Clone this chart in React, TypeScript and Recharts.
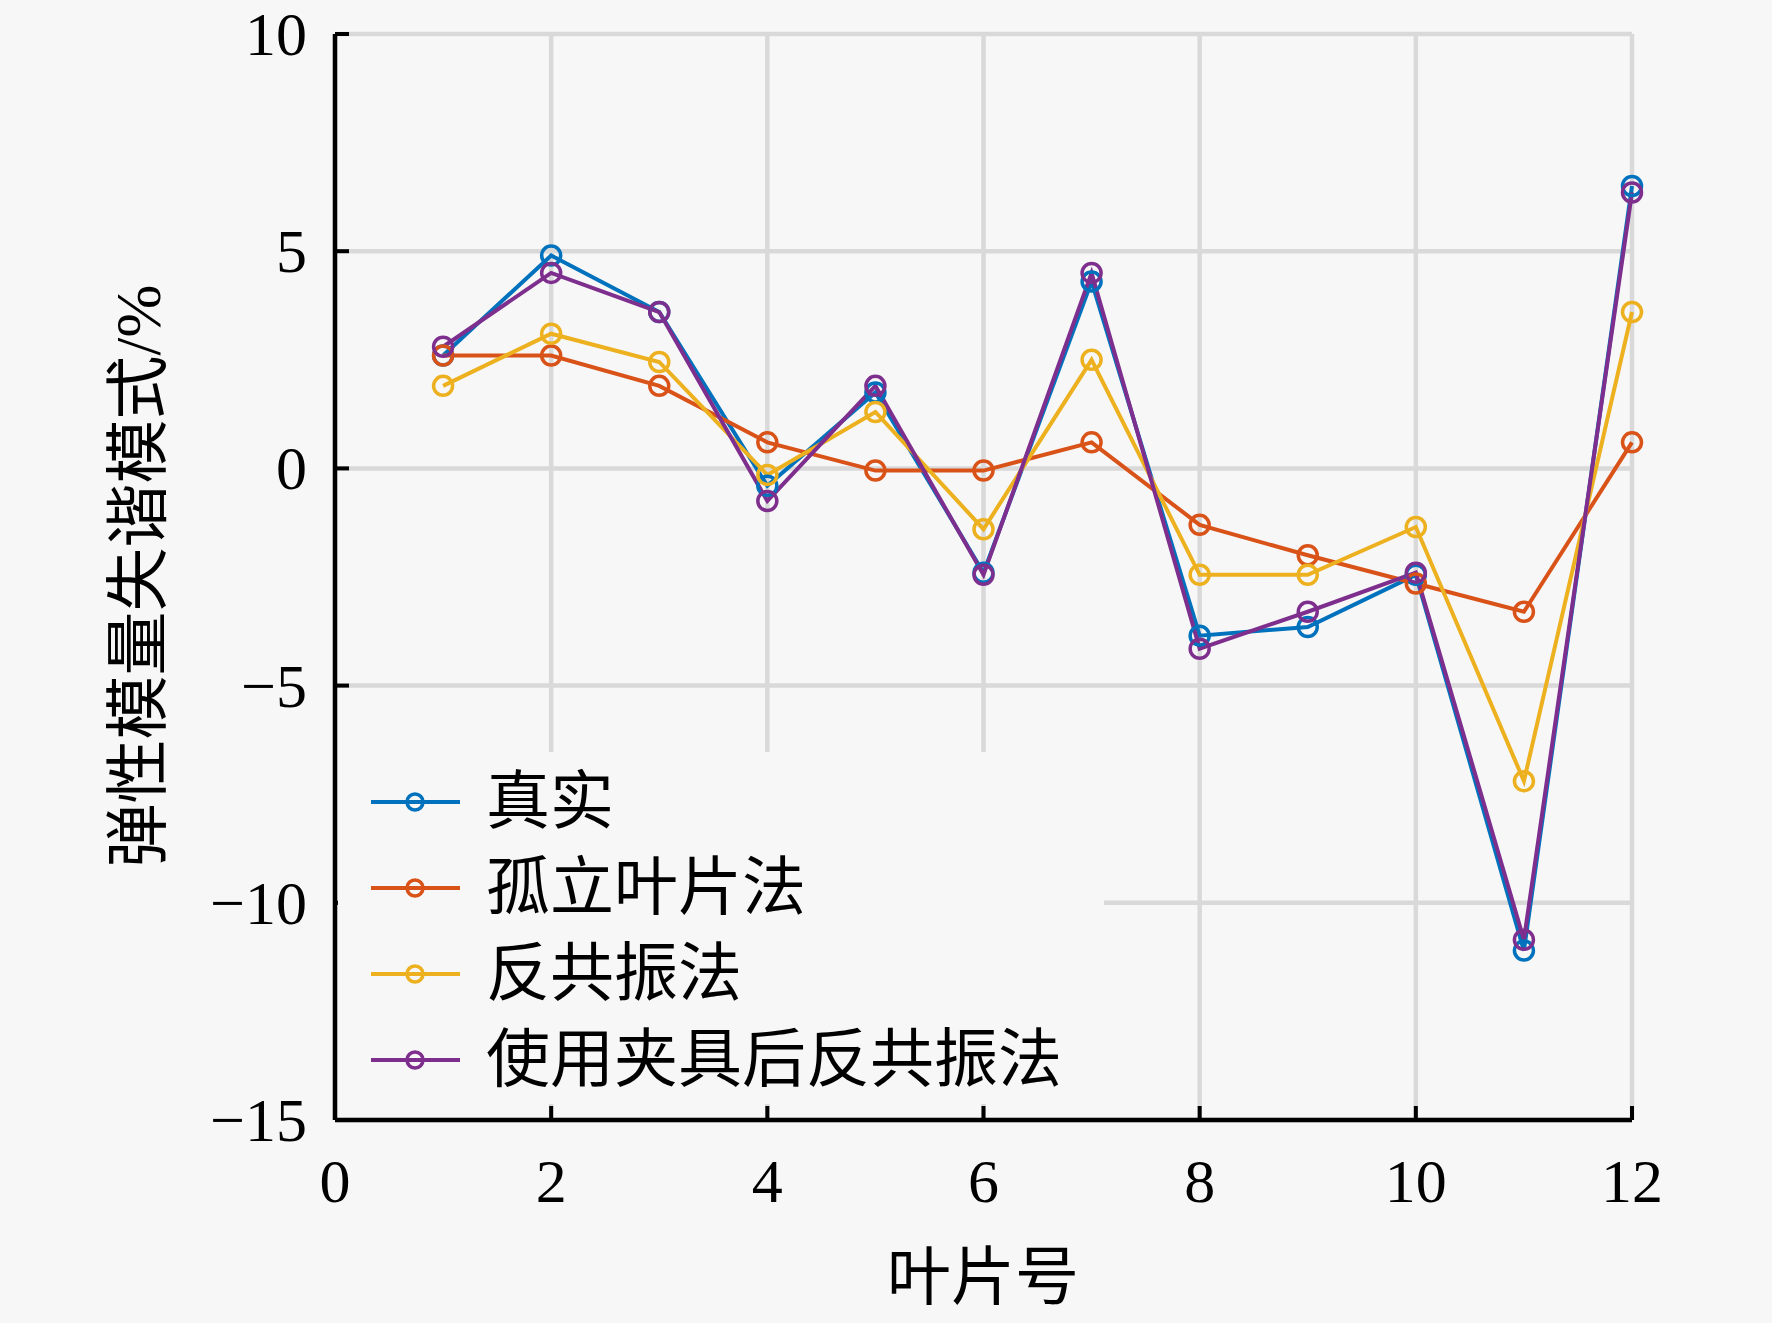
import React from 'react';
import { LineChart, Line, XAxis, YAxis, CartesianGrid, Legend } from 'recharts';

const blades = [1, 2, 3, 4, 5, 6, 7, 8, 9, 10, 11, 12];
const realValues = [2.6, 4.9, 3.6, -0.4, 1.75, -2.4, 4.3, -3.85, -3.65, -2.45, -11.1, 6.5];
const isolatedValues = [2.6, 2.6, 1.9, 0.6, -0.05, -0.05, 0.6, -1.3, -2.0, -2.65, -3.3, 0.6];
const antiResValues = [1.9, 3.1, 2.45, -0.15, 1.3, -1.4, 2.5, -2.45, -2.45, -1.35, -7.2, 3.6];
const clampValues = [2.8, 4.5, 3.6, -0.75, 1.9, -2.45, 4.5, -4.15, -3.3, -2.4, -10.85, 6.35];

const seriesNames = ['真实', '孤立叶片法', '反共振法', '使用夹具后反共振法'];
const seriesKeys = ['real', 'isolated', 'anti', 'clamp'];
const seriesColors = ['#0072BD', '#D95319', '#EDB120', '#7E2F8E'];

const xTicks = [0, 2, 4, 6, 8, 10, 12];
const yTicks = [-15, -10, -5, 0, 5, 10];
const xLabel = '叶片号';
const yLabel = '弹性模量失谐模式/%';

const data = blades.map((b, i) => ({
  blade: b,
  real: realValues[i],
  isolated: isolatedValues[i],
  anti: antiResValues[i],
  clamp: clampValues[i],
}));

const numFont = "'Liberation Serif', 'Times New Roman', serif";
const cjkFont = "'Liberation Serif', 'Noto Sans CJK SC', serif";
const BG = '#f7f7f7';
const fmt = (v: number) => (v < 0 ? '\u2212' + Math.abs(v) : String(v));

const BottomTick = (props: any) => {
  const { x, y, payload } = props;
  return (
    <g>
      <line x1={x} y1={y} x2={x} y2={y - 14} stroke="#000" strokeWidth={4} />
      <text x={x} y={y + 82} textAnchor="middle" fontFamily={numFont} fontSize={62} fill="#000">
        {fmt(payload.value)}
      </text>
    </g>
  );
};
const TopTick = (props: any) => {
  const { x, y } = props;
  return <line x1={x} y1={y} x2={x} y2={y + 14} stroke="#000" strokeWidth={4} />;
};
const LeftTick = (props: any) => {
  const { x, y, payload } = props;
  return (
    <g>
      <line x1={x} y1={y} x2={x + 14} y2={y} stroke="#000" strokeWidth={4} />
      <text x={x - 28} y={y} dy="0.34em" textAnchor="end" fontFamily={numFont} fontSize={62} fill="#000">
        {fmt(payload.value)}
      </text>
    </g>
  );
};
const RightTick = (props: any) => {
  const { x, y } = props;
  return <line x1={x} y1={y} x2={x - 14} y2={y} stroke="#000" strokeWidth={4} />;
};

const renderLegend = () => (
  <div style={{ width: '100%', height: '100%', background: BG, position: 'relative' }}>
    {seriesNames.map((name, i) => (
      <div
        key={name}
        style={{
          position: 'absolute',
          left: 0,
          top: 50 + i * 86 - 43,
          height: 86,
          display: 'flex',
          alignItems: 'center',
          whiteSpace: 'nowrap',
        }}
      >
        <svg width={148} height={86} style={{ display: 'block' }}>
          <line x1={33} y1={43} x2={122} y2={43} stroke={seriesColors[i]} strokeWidth={4} />
          <circle cx={77} cy={43} r={8} fill="none" stroke={seriesColors[i]} strokeWidth={3.5} />
        </svg>
        <span style={{ fontFamily: cjkFont, fontSize: 64, color: '#000', lineHeight: '86px' }}>{name}</span>
      </div>
    ))}
  </div>
);

export default function App() {
  return (
    <div style={{ position: 'absolute', left: 0, top: 0, width: 1772, height: 1323, background: BG }}>
      <LineChart
        width={1772}
        height={1323}
        data={data}
        margin={{ top: 34, right: 140, bottom: 0, left: 0 }}
      >
        <CartesianGrid stroke="#d9d9d9" strokeWidth={4.5} />
        <XAxis
          dataKey="blade"
          type="number"
          domain={[0, 12]}
          ticks={xTicks}
          height={203}
          axisLine={{ stroke: '#000', strokeWidth: 4.5 }}
          tickLine={false}
          tickSize={0}
          tickMargin={0}
          tick={<BottomTick />}
          interval={0}
          label={{
            content: () => (
              <text x={983} y={1299} textAnchor="middle" fontFamily={cjkFont} fontSize={64} fill="#000">
                {xLabel}
              </text>
            ),
          }}
        />
        <XAxis
          xAxisId="top"
          orientation="top"
          type="number"
          domain={[0, 12]}
          ticks={xTicks}
          height={0}
          axisLine={{ stroke: '#000', strokeWidth: 4.5 }}
          tickLine={false}
          tickSize={0}
          tickMargin={0}
          tick={<TopTick />}
          interval={0}
        />
        <YAxis
          type="number"
          domain={[-15, 10]}
          ticks={yTicks}
          width={335}
          axisLine={{ stroke: '#000', strokeWidth: 4.5 }}
          tickLine={false}
          tickSize={0}
          tickMargin={0}
          tick={<LeftTick />}
          interval={0}
          label={{
            content: () => (
              <text
                x={0}
                y={0}
                transform="translate(160 576) rotate(-90)"
                textAnchor="middle"
                fontFamily={cjkFont}
                fontSize={64}
                fill="#000"
              >
                {yLabel}
              </text>
            ),
          }}
        />
        <YAxis
          yAxisId="right"
          orientation="right"
          type="number"
          domain={[-15, 10]}
          ticks={yTicks}
          width={0}
          axisLine={{ stroke: '#000', strokeWidth: 4.5 }}
          tickLine={false}
          tickSize={0}
          tickMargin={0}
          tick={<RightTick />}
          interval={0}
        />
        <Legend
          layout="horizontal"
          verticalAlign="middle"
          align="center"
          wrapperStyle={{ left: 338, top: 752, width: 766, height: 352 }}
          content={renderLegend}
        />
        {seriesKeys.map((k, i) => (
          <Line
            key={k}
            dataKey={k}
            name={seriesNames[i]}
            stroke={seriesColors[i]}
            strokeWidth={4}
            dot={{ r: 9.5, fill: 'none', stroke: seriesColors[i], strokeWidth: 3.5 }}
            activeDot={false}
            isAnimationActive={false}
          />
        ))}
      </LineChart>
    </div>
  );
}
